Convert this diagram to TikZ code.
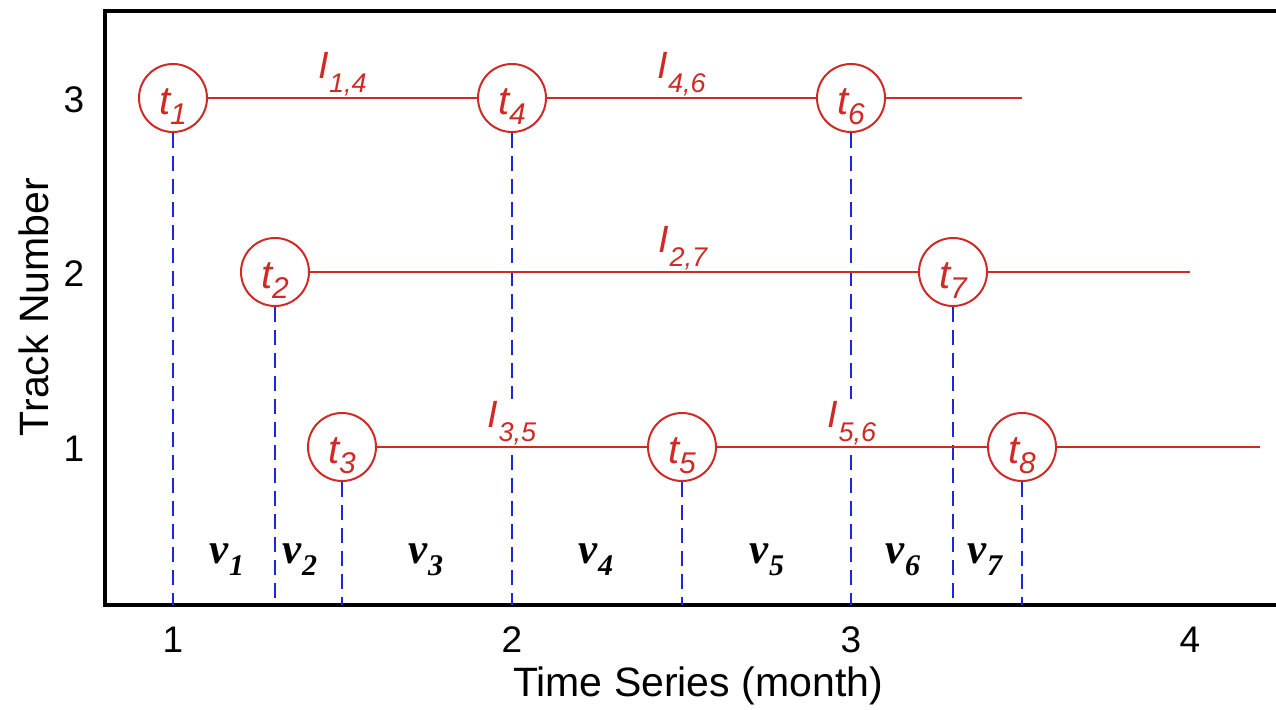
\documentclass[tikz,border=0pt]{standalone}
\usepackage{fontspec}
\setmainfont{Liberation Sans}
\newfontfamily\serifv{Liberation Serif}
\definecolor{trk}{RGB}{208,42,38}
\definecolor{vbl}{RGB}{28,40,215}
\newcommand{\tsym}[2]{{\fontsize{40}{40}\selectfont\itshape #1}\raisebox{-10pt}{\fontsize{30}{30}\selectfont\itshape #2}}
\newcommand{\isym}[2]{{\fontsize{38}{38}\selectfont\itshape #1}\raisebox{-14pt}{\fontsize{27}{27}\selectfont\itshape #2}}
\newcommand{\vsym}[2]{{\serifv\bfseries\itshape\fontsize{43}{43}\selectfont #1\raisebox{-12pt}{\fontsize{30}{30}\selectfont #2}}}
\begin{document}
\begin{tikzpicture}[x=1pt,y=-1pt,
  frame/.style={line width=3.5pt,black},
  tcirc/.style={circle,draw=trk,line width=2pt,minimum size=68pt,inner sep=0pt},
  tlab/.style={anchor=base,text=trk,inner sep=0pt},
  ilab/.style={anchor=base,text=trk,fill=white,inner sep=2pt},
  vlab/.style={anchor=base,inner sep=0pt},
  vdash/.style={draw=vbl,line width=2.6pt,dash pattern=on 15pt off 8pt},
  trkline/.style={draw=trk,line width=2pt},
  ticklab/.style={font=\fontsize{37}{37}\selectfont,inner sep=0pt},
  axtitle/.style={font=\fontsize{41}{41}\selectfont,inner sep=0pt}]
\useasboundingbox (0,0) rectangle (1276,709);
% frame
\coordinate (O) at (105,605);
\coordinate (BR) at (1276,605);
\coordinate (TL) at (105,11);
\coordinate (TR) at (1276,11);
\draw[frame] (TR) -- (TL) -- (O) -- (BR);
% circles
\node[tcirc] (t1) at (173,98) {};
\node[tcirc] (t4) at (512,98) {};
\node[tcirc] (t6) at (851,98) {};
\node[tcirc] (t2) at (275,272) {};
\node[tcirc] (t7) at (953,272) {};
\node[tcirc] (t3) at (342,447) {};
\node[tcirc] (t5) at (682,447) {};
\node[tcirc] (t8) at (1022,447) {};
\foreach \n in {1,...,8} {
  \node[tlab] (t\n l) at ([yshift=-16pt]t\n.center) {\tsym{t}{\n}};
}
% axis foot coordinates
\coordinate (a1) at (173,605);
\coordinate (a2) at (275,605);
\coordinate (a3) at (342,605);
\coordinate (a4) at (512,605);
\coordinate (a5) at (682,605);
\coordinate (a6) at (851,605);
\coordinate (a7) at (953,605);
\coordinate (a8) at (1022,605);
\foreach \n in {1,...,8} { \draw[vdash] (t\n) -- (a\n); }
% interval labels
\node[ilab] (i14) at (342.5,78) {\isym{I}{1,4}};
\node[ilab] (i46) at (681.5,78) {\isym{I}{4,6}};
\node[ilab] (i27) at (683,252) {\isym{I}{2,7}};
\node[ilab] (i35) at (512,427) {\isym{I}{3,5}};
\node[ilab] (i56) at (852,427) {\isym{I}{5,6}};
% track lines
\coordinate (e3) at (1022,98);
\coordinate (e2) at (1190,272);
\coordinate (e1) at (1260,447);
\draw[trkline] (t1) -- (t4);
\draw[trkline] (t4) -- (t6);
\draw[trkline] (t6) -- (e3);
\draw[trkline] (t2) -- (t7);
\draw[trkline] (t7) -- (e2);
\draw[trkline] (t3) -- (t5);
\draw[trkline] (t5) -- (t8);
\draw[trkline] (t8) -- (e1);
% v labels
\node[vlab] (v1) at (227,563) {\vsym{v}{1}};
\node[vlab] (v2) at (300,563) {\vsym{v}{2}};
\node[vlab] (v3) at (426,563) {\vsym{v}{3}};
\node[vlab] (v4) at (596,563) {\vsym{v}{4}};
\node[vlab] (v5) at (767,563) {\vsym{v}{5}};
\node[vlab] (v6) at (903,563) {\vsym{v}{6}};
\node[vlab] (v7) at (985,563) {\vsym{v}{7}};
% tick labels
\node[ticklab] (x1) at (173,640) {1};
\node[ticklab] (x2) at (512,640) {2};
\node[ticklab] (x3) at (851,640) {3};
\node[ticklab] (x4) at (1190,640) {4};
\node[ticklab] (y3) at (74,100) {3};
\node[ticklab] (y2) at (74,274) {2};
\node[ticklab] (y1) at (74,449) {1};
\node[axtitle] (xt) at (698,686) {Time Series (month)};
\node[axtitle,rotate=90] (yt) at (34,307) {Track Number};
\end{tikzpicture}
\end{document}
